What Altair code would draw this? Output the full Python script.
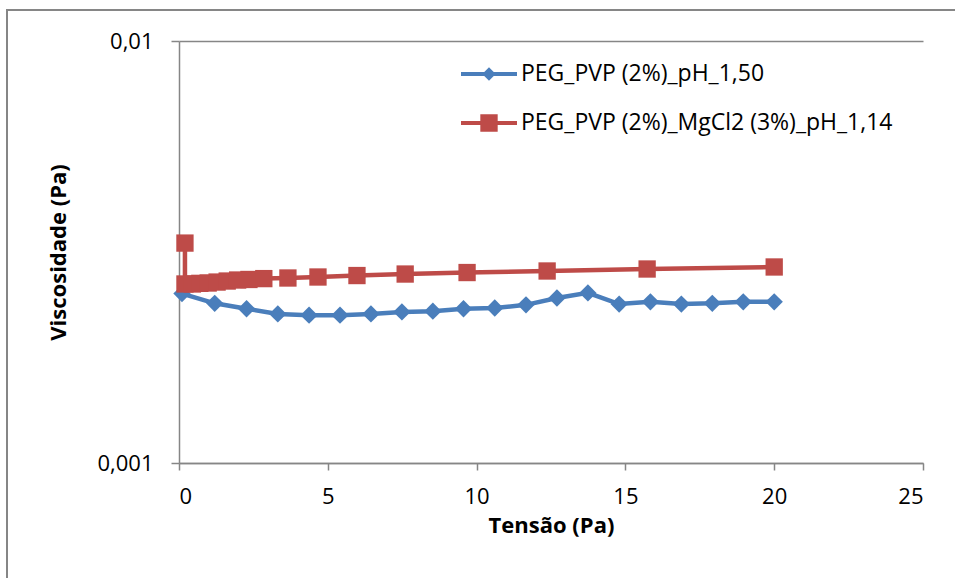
import altair as alt
import pandas as pd

# ---- data ----
series_names = ["PEG_PVP (2%)_pH_1,50", "PEG_PVP (2%)_MgCl2 (3%)_pH_1,14"]
series_colors = ["#4A7EBB", "#BE4B48"]
series_shapes = ["diamond", "square"]

blue_x = [0.1, 1.2, 2.27, 3.32, 4.37, 5.41, 6.45, 7.49, 8.53, 9.56,
          10.61, 11.66, 12.7, 13.74, 14.79, 15.84, 16.88, 17.92, 18.96, 20.0]
blue_y = [0.00252, 0.00239, 0.00232, 0.002256, 0.00224, 0.00224, 0.002256, 0.00228, 0.00229, 0.00232,
          0.00233, 0.00237, 0.00246, 0.00253, 0.00238, 0.00241, 0.00238, 0.00239, 0.00241, 0.00241]

red_x = [0.2, 0.2, 0.45, 0.7, 0.98, 1.28, 1.62, 1.97, 2.35, 2.85,
         3.66, 4.67, 5.98, 7.6, 9.68, 12.37, 15.73, 20.0]
red_y = [0.00332, 0.002656, 0.002656, 0.002665, 0.00267, 0.002684, 0.002699, 0.002714, 0.002722, 0.002735,
         0.002744, 0.002759, 0.002781, 0.002804, 0.002827, 0.002851, 0.002882, 0.002914]

x_ticks = [0, 5, 10, 15, 20, 25]
y_ticks = [0.001, 0.01]

rows = []
for i, (x, y) in enumerate(zip(blue_x, blue_y)):
    rows.append({"tensao": x, "visc": y, "serie": series_names[0], "ord": i})
for i, (x, y) in enumerate(zip(red_x, red_y)):
    rows.append({"tensao": x, "visc": y, "serie": series_names[1], "ord": i})
df = pd.DataFrame(rows)

FONT = "Open Sans"
AXIS_GRAY = "#868686"

# legend symbols: a line with a marker (unit path, scaled by symbolSize)
path_diamond = "M-1,-0.07L1,-0.07L1,0.07L-1,0.07Z M0,-0.24L0.24,0L0,0.24L-0.24,0Z"
path_square = "M-1,-0.07L1,-0.07L1,0.07L-1,0.07Z M-0.31,-0.31L0.31,-0.31L0.31,0.31L-0.31,0.31Z"

x_enc = alt.X("tensao:Q",
              scale=alt.Scale(domain=[0, 25], nice=False),
              axis=alt.Axis(values=x_ticks, grid=False, title="Tensão (Pa)",
                            labelPadding=16, tickSize=7, titlePadding=8))
y_enc = alt.Y("visc:Q",
              scale=alt.Scale(type="log", domain=[0.001, 0.01], nice=False),
              axis=alt.Axis(values=y_ticks, grid=True, title="Viscosidade (Pa)",
                            labelExpr="replace(format(datum.value, '~g'), '.', ',')",
                            labelPadding=18, tickSize=8, titlePadding=26))


def make_legend():
    return alt.Legend(
        title=None, orient="none", legendX=282, legendY=5,
        symbolSize=3136, symbolStrokeWidth=0, symbolOpacity=1,
        labelFontSize=23, labelFont=FONT, labelColor="#000000",
        labelLimit=500, labelOffset=4, rowPadding=9, padding=0,
    )


base = alt.Chart(df)

layers = []
for name, col, shp in zip(series_names, series_colors, series_shapes):
    sub = base.transform_filter(alt.datum.serie == name)
    layers.append(sub.mark_line(strokeWidth=4.5, color=col).encode(
        x=x_enc, y=y_enc, order="ord:Q"))
for name, col, shp in zip(series_names, series_colors, series_shapes):
    sub = base.transform_filter(alt.datum.serie == name)
    layers.append(sub.mark_point(filled=True, size=300, opacity=1, shape=shp, color=col).encode(
        x=x_enc, y=y_enc))

# legend-only layer (no rows drawn; domains are explicit)
legend_layer = base.transform_filter("false").mark_point(filled=True, opacity=1).encode(
    x=x_enc, y=y_enc,
    color=alt.Color("serie:N", scale=alt.Scale(domain=series_names, range=series_colors),
                    legend=make_legend()),
    shape=alt.Shape("serie:N", scale=alt.Scale(domain=series_names, range=[path_diamond, path_square]),
                    legend=make_legend()),
)

frame = alt.Chart(pd.DataFrame({"k": [0]})).mark_rect(
    filled=False, stroke=AXIS_GRAY, strokeWidth=2, clip=False
).encode(
    x=alt.value(-172), x2=alt.value(820),
    y=alt.value(-31), y2=alt.value(560),
)

chart = alt.layer(frame, legend_layer, *layers).properties(
    width=744, height=422,
    autosize=alt.AutoSizeParams(type="none"),
    padding={"left": 179, "top": 41, "right": 32, "bottom": 115},
    background="white",
).configure_view(stroke=None).configure_axis(
    domainColor=AXIS_GRAY, domainWidth=1.5,
    tickColor=AXIS_GRAY, tickWidth=1.5,
    gridColor=AXIS_GRAY, gridWidth=1.5,
    labelFont=FONT, labelFontSize=22, labelColor="#000000",
    titleFont=FONT, titleFontSize=22, titleFontWeight="bold", titleColor="#000000",
)

chart.save("out.html", embed_options={"renderer": "svg", "actions": False})
